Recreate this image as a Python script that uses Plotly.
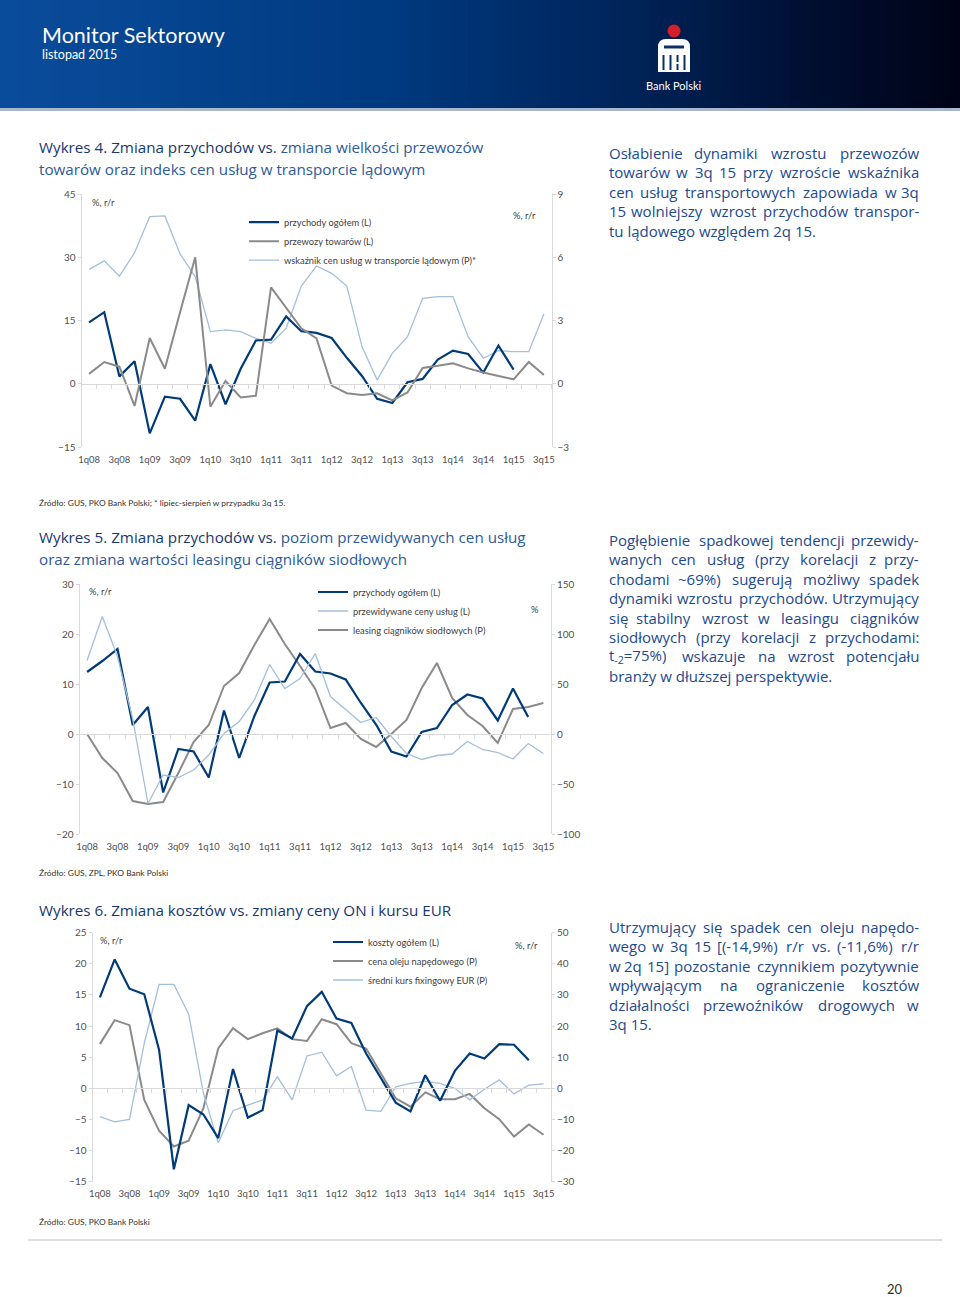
import plotly.graph_objects as go

W, H = 960, 1297


def px(x):
    return x / W


def py(y):
    return 1 - y / H


# ---------------- data ----------------
quarters = ["1q08", "2q08", "3q08", "4q08", "1q09", "2q09", "3q09", "4q09",
            "1q10", "2q10", "3q10", "4q10", "1q11", "2q11", "3q11", "4q11",
            "1q12", "2q12", "3q12", "4q12", "1q13", "2q13", "3q13", "4q13",
            "1q14", "2q14", "3q14", "4q14", "1q15", "2q15", "3q15"]
tick_labels = ["1q08", "3q08", "1q09", "3q09", "1q10", "3q10", "1q11", "3q11",
               "1q12", "3q12", "1q13", "3q13", "1q14", "3q14", "1q15", "3q15"]

# Wykres 4 / Wykres 5 (shared series, drawn one quarter earlier in Wykres 4)
przychody_ogolem = [12.4, 14.6, 17.0, 1.8, 5.4, -11.7, -3.0, -3.5, -8.7, 4.7,
                    -4.8, 3.6, 10.3, 10.5, 16.0, 12.5, 12.1, 10.9, 6.2, 1.9,
                    -3.5, -4.5, 0.4, 1.2, 5.8, 7.9, 7.1, 2.7, 9.1, 3.4]
przewozy_towarow = [2.4, 5.2, 4.1, -5.2, 10.9, 3.6, 17.0, 30.0, -5.4, 0.7,
                    -3.2, -2.8, 22.9, 17.9, 13.2, 10.8, -0.4, -2.2, -2.6, -2.2,
                    -3.9, -2.0, 3.8, 4.3, 4.9, 3.7, 2.7, 1.9, 1.1, 5.2, 2.1]
wskaznik_cen = [5.43, 5.83, 5.10, 6.22, 7.93, 7.96, 6.16, 5.09, 2.48, 2.56,
                2.48, 2.16, 1.93, 2.64, 4.64, 5.59, 5.24, 4.64, 1.77, 0.19,
                1.45, 2.24, 4.06, 4.14, 4.14, 2.24, 1.22, 1.58, 1.53, 1.53, 3.32]

# Wykres 5
przewidywane_ceny = [14.7, 23.5, 15.5, 3.0, -13.9, -8.2, -8.7, -7.2, -4.2, 0.1,
                     2.5, 6.8, 13.9, 9.1, 11.1, 16.1, 7.5, 4.8, 2.3, 3.3,
                     -0.5, -3.9, -5.1, -4.3, -4.0, -1.5, -3.1, -3.7, -5.0, -1.9, -3.9]
leasing_ciagnikow = [0, -24, -39, -67, -70, -68, -39, -8, 9, 48,
                     61, 89, 115, 90, 68, 45, 6, 11, -5, -13,
                     0, 14, 46, 71, 36, 19, 8, -9, 25, 27, 31]

# Wykres 6
koszty_ogolem = [14.6, 20.7, 16.0, 15.1, 6.2, -13.0, -2.7, -4.2, -8.0, 3.1,
                 -4.7, -3.5, 9.3, 8.0, 13.2, 15.5, 11.2, 10.5, 5.6, 1.6,
                 -2.3, -3.7, 2.1, -2.0, 2.8, 5.6, 4.8, 7.1, 7.0, 4.5]
cena_oleju = [14.2, 21.9, 20.3, -3.7, -13.6, -18.7, -16.8, -6.4, 12.8, 19.3,
              15.8, 17.7, 19.3, 15.8, 15.2, 22.2, 20.6, 14.5, 12.8, 4.8,
              -3.2, -5.9, -1.3, -3.5, -3.5, -1.8, -6.4, -9.9, -15.5, -11.6, -14.9]
kurs_eur = [-9.1, -10.8, -10.0, 14.5, 33.4, 33.4, 23.9, -1.6, -17.5, -7.2,
            -5.4, -3.7, 3.7, -3.7, 10.4, 11.6, 4.0, 7.0, -7.0, -7.4,
            0.5, 1.6, 2.2, 1.6, 0.0, -3.7, -0.3, 2.7, -1.8, 1.0, 1.4]

# ---------------- styles ----------------
DARK = "#003a78"
GRAY = "#8a8a8a"
LIGHT = "#a3bfda"
AXC = "#d9d9d9"
TICKC = "#505050"
TXT = "#1d4a8e"
TITLE1 = "#16386f"
TITLE2 = "#2d5a9b"
SMALL = "Lato"
BODY = "Open Sans"

pos = list(range(len(quarters)))
tickpos = pos[::2]

fig = go.Figure()

charts = [
    dict(x="x", yb="y", yo="y2", xz="x4", xd=(81.5, 551.5), top=194.0, bot=447.3,
         lr=(-15, 45), ld=15, rr=(-3, 9), rd=3, leg="legend"),
    dict(x="x2", yb="y3", yo="y4", xz="x5", xd=(79.5, 551.0), top=584.0, bot=834.0,
         lr=(-20, 30), ld=10, rr=(-100, 150), rd=50, leg="legend2"),
    dict(x="x3", yb="y5", yo="y6", xz="x6", xd=(92.5, 551.0), top=932.7, bot=1181.7,
         lr=(-15, 25), ld=5, rr=(-30, 50), rd=10, leg="legend3"),
]

c1, c2, c3 = charts

# Wykres 4 traces
fig.add_trace(go.Scatter(x=pos[:len(przychody_ogolem) - 1], y=przychody_ogolem[1:],
                         xaxis=c1["x"], yaxis=c1["yo"], mode="lines",
                         name="przychody ogółem (L)", legend=c1["leg"],
                         line=dict(color=DARK, width=2.2)))
fig.add_trace(go.Scatter(x=pos, y=przewozy_towarow, xaxis=c1["x"], yaxis=c1["yo"],
                         mode="lines", name="przewozy towarów (L)", legend=c1["leg"],
                         line=dict(color=GRAY, width=2)))
fig.add_trace(go.Scatter(x=pos, y=wskaznik_cen, xaxis=c1["x"], yaxis=c1["yb"],
                         mode="lines", name="wskaźnik cen usług w transporcie lądowym (P)*",
                         legend=c1["leg"], line=dict(color=LIGHT, width=1.3)))

# Wykres 5 traces
fig.add_trace(go.Scatter(x=pos[:len(przychody_ogolem)], y=przychody_ogolem,
                         xaxis=c2["x"], yaxis=c2["yo"], mode="lines",
                         name="przychody ogółem (L)", legend=c2["leg"],
                         line=dict(color=DARK, width=2.2)))
fig.add_trace(go.Scatter(x=pos, y=przewidywane_ceny, xaxis=c2["x"], yaxis=c2["yo"],
                         mode="lines", name="przewidywane ceny usług (L)", legend=c2["leg"],
                         line=dict(color=LIGHT, width=1.3)))
fig.add_trace(go.Scatter(x=pos, y=leasing_ciagnikow, xaxis=c2["x"], yaxis=c2["yb"],
                         mode="lines", name="leasing ciągników siodłowych (P)",
                         legend=c2["leg"], line=dict(color=GRAY, width=2)))

# Wykres 6 traces
fig.add_trace(go.Scatter(x=pos[:len(koszty_ogolem)], y=koszty_ogolem,
                         xaxis=c3["x"], yaxis=c3["yo"], mode="lines",
                         name="koszty ogółem (L)", legend=c3["leg"],
                         line=dict(color=DARK, width=2.2)))
fig.add_trace(go.Scatter(x=pos, y=cena_oleju, xaxis=c3["x"], yaxis=c3["yb"],
                         mode="lines", name="cena oleju napędowego (P)", legend=c3["leg"],
                         line=dict(color=GRAY, width=2)))
fig.add_trace(go.Scatter(x=pos, y=kurs_eur, xaxis=c3["x"], yaxis=c3["yb"],
                         mode="lines", name="średni kurs fixingowy EUR (P)",
                         legend=c3["leg"], line=dict(color=LIGHT, width=1.3)))

layout = dict(
    width=W, height=H, margin=dict(l=0, r=0, t=0, b=0, autoexpand=False),
    paper_bgcolor="white", plot_bgcolor="rgba(0,0,0,0)",
    hovermode=False,
)

legend_pos = [(244.0, 207.7), (313.0, 577.5), (328.0, 927.5)]

for i, c in enumerate(charts):
    xn = c["x"].replace("x", "xaxis")
    ybn = c["yb"].replace("y", "yaxis")
    yon = c["yo"].replace("y", "yaxis")
    xzn = c["xz"].replace("x", "xaxis")
    dom_x = [px(c["xd"][0]), px(c["xd"][1])]
    dom_y = [py(c["bot"]), py(c["top"])]
    zero_px = c["top"] + (c["bot"] - c["top"]) * (c["lr"][1] / (c["lr"][1] - c["lr"][0]))
    layout[xn] = dict(domain=dom_x, anchor=c["yb"], range=[-0.5, 30.5],
                      tickmode="array", tickvals=tickpos, ticktext=tick_labels,
                      showline=False, showgrid=False, zeroline=False, ticks="",
                      ticklabelstandoff=5, automargin=False,
                      tickfont=dict(family=SMALL, size=9.5, color=TICKC))
    layout[xzn] = dict(domain=dom_x, overlaying=c["x"], anchor="free",
                       position=py(zero_px), range=[-0.5, 30.5],
                       tickmode="linear", tick0=-0.5, dtick=1,
                       ticks="outside", ticklen=4, tickcolor=AXC, tickwidth=1,
                       showticklabels=False, showline=True, linecolor=AXC,
                       linewidth=1, showgrid=False, zeroline=False, automargin=False)
    layout[ybn] = dict(domain=dom_y, anchor=c["x"], side="right",
                       range=list(c["rr"]), dtick=c["rd"], tick0=0,
                       showline=True, linecolor=AXC, linewidth=1,
                       ticks="outside", ticklen=3, tickcolor=AXC,
                       showgrid=False, zeroline=False, automargin=False,
                       tickfont=dict(family=SMALL, size=10, color=TICKC))
    layout[yon] = dict(domain=dom_y, anchor=c["x"], overlaying=c["yb"], side="left",
                       range=list(c["lr"]), dtick=c["ld"], tick0=0,
                       showline=True, linecolor=AXC, linewidth=1,
                       ticks="outside", ticklen=3, tickcolor=AXC,
                       showgrid=False, zeroline=False, automargin=False,
                       tickfont=dict(family=SMALL, size=10, color=TICKC))
    lx, ly = legend_pos[i]
    layout[c["leg"]] = dict(x=px(lx), y=py(ly), xanchor="left", yanchor="top",
                            bgcolor="rgba(0,0,0,0)", borderwidth=0,
                            itemwidth=30, tracegroupgap=0,
                            font=dict(family=SMALL, size=9.3, color="#404040"))
    fig.add_trace(go.Scatter(x=[0], y=[None], xaxis=c["xz"], yaxis=c["yb"],
                             mode="lines", showlegend=False, hoverinfo="skip"))

fig.update_layout(**layout)

# ---------------- header ----------------
shapes = []
stops = [(0.0, (10, 76, 156)), (0.40, (0, 58, 128)), (0.65, (0, 36, 90)),
         (0.85, (0, 14, 48)), (1.0, (0, 3, 22))]


def grad(t):
    for (t0, c0), (t1, c1_) in zip(stops[:-1], stops[1:]):
        if t0 <= t <= t1:
            f = (t - t0) / (t1 - t0)
            return "rgb(%d,%d,%d)" % tuple(round(a + (b - a) * f) for a, b in zip(c0, c1_))
    return "rgb(0,3,22)"


NS = 96
for k in range(NS):
    x0 = k * W / NS
    x1 = (k + 1) * W / NS + 0.6
    shapes.append(dict(type="rect", xref="paper", yref="paper",
                       x0=px(x0), x1=min(1, px(x1)), y0=py(108), y1=1,
                       fillcolor=grad((k + 0.5) / NS), line=dict(width=0), layer="below"))
shapes.append(dict(type="rect", xref="paper", yref="paper", x0=0, x1=1,
                   y0=py(111), y1=py(108), fillcolor="#a9b6cb", line=dict(width=0)))


def P(x, y):
    return "%.5f,%.5f" % (px(x), py(y))


body = ("M " + P(658, 72) + " L " + P(658, 47) + " Q " + P(658, 39) + " " + P(666, 39)
        + " L " + P(682, 39) + " Q " + P(690, 39) + " " + P(690, 47)
        + " L " + P(690, 72) + " Z")
shapes.append(dict(type="path", xref="paper", yref="paper", path=body,
                   fillcolor="white", line=dict(width=0)))
shapes.append(dict(type="circle", xref="paper", yref="paper",
                   x0=px(667.5), x1=px(680.5), y0=py(37.5), y1=py(24.5),
                   fillcolor="#d31f2b", line=dict(width=0)))
logo_blue = "#0b2f66"
for (xa, ya, xb, yb) in [(664, 45.5, 684, 48.5), (662.5, 55, 664.5, 70), (669.5, 55, 671.5, 70),
                         (676.5, 55, 678.5, 62), (683.5, 55, 685.5, 70), (676.5, 64, 678.5, 70)]:
    shapes.append(dict(type="rect", xref="paper", yref="paper",
                       x0=px(xa), x1=px(xb), y0=py(yb), y1=py(ya),
                       fillcolor=logo_blue, line=dict(width=0)))

shapes.append(dict(type="line", xref="paper", yref="paper", x0=px(28), x1=px(942),
                   y0=py(1240), y1=py(1240), line=dict(color="#d3d3d3", width=1.5)))

fig.update_layout(shapes=shapes)

# ---------------- texts ----------------
ann = []


def text(x, y, s, size, color, family=SMALL, xanchor="left", yanchor="middle"):
    ann.append(dict(x=px(x), y=py(y), xref="paper", yref="paper", text=s,
                    showarrow=False, xanchor=xanchor, yanchor=yanchor,
                    font=dict(family=family, size=size, color=color)))


text(40, 35, "Monitor Sektorowy", 21.5, "white")
text(40, 55, "listopad 2015", 12.5, "white")
text(673.5, 85, "Bank Polski", 11, "white", xanchor="center")

TS = 15.2
text(37, 147, "Wykres 4. Zmiana przychodów vs. <span style='color:%s'>zmiana wielkości przewozów</span>" % TITLE2,
     TS, TITLE1, family=BODY)
text(37, 169, "towarów oraz indeks cen usług w transporcie lądowym", TS, TITLE2, family=BODY)
text(37, 537, "Wykres 5. Zmiana przychodów vs. <span style='color:%s'>poziom przewidywanych cen usług</span>" % TITLE2,
     TS, TITLE1, family=BODY)
text(37, 559, "oraz zmiana wartości leasingu ciągników siodłowych", TS, TITLE2, family=BODY)
text(37, 910, "Wykres 6. Zmiana kosztów vs. zmiany ceny ON i kursu EUR", TS, TITLE1, family=BODY)

text(90, 203, "%, r/r", 9.3, "#404040")
text(538, 216, "%, r/r", 9.3, "#404040", xanchor="right")
text(87, 591.5, "%, r/r", 9.3, "#404040")
text(541, 610, "%", 9.3, "#404040", xanchor="right")
text(98, 940, "%, r/r", 9.3, "#404040")
text(540, 945, "%, r/r", 9.3, "#404040", xanchor="right")

text(37, 503, "Źródło: GUS, PKO Bank Polski; * lipiec-sierpień w przypadku 3q 15.", 8.4, "#303030")
text(37, 873, "Źródło: GUS, ZPL, PKO Bank Polski", 8.4, "#303030")
text(37, 1222, "Źródło: GUS, PKO Bank Polski", 8.4, "#303030")

text(905, 1289, "20", 13, "#303030", xanchor="right")

WID = {" ": 0.26, "i": 0.26, "l": 0.26, "j": 0.26, "ł": 0.28, "t": 0.35, "f": 0.33,
       "r": 0.40, "s": 0.47, "ś": 0.47, "c": 0.48, "ć": 0.48, "z": 0.47, "ż": 0.47,
       "ź": 0.47, "e": 0.56, "ę": 0.56, "a": 0.56, "ą": 0.56, "o": 0.60, "ó": 0.60,
       "n": 0.61, "ń": 0.61, "u": 0.61, "k": 0.53, "y": 0.51, "v": 0.51, "x": 0.51,
       "w": 0.80, "m": 0.93, ".": 0.27, ",": 0.27, ":": 0.27, "(": 0.30, ")": 0.30,
       "[": 0.32, "]": 0.32, "-": 0.33, "%": 0.84, "~": 0.57, "=": 0.57}


def wlen(word, size):
    plain = word.replace("<sub>", "").replace("</sub>", "")
    tot = 0.0
    for ch in plain:
        if ch in WID:
            tot += WID[ch]
        elif ch.isdigit():
            tot += 0.57
        elif ch.isupper():
            tot += 0.68
        else:
            tot += 0.60
    return tot * size * 1.02


def paragraph(lines, y0, dy, size=15, left=607, right=921):
    for li, line in enumerate(lines):
        y = y0 + li * dy
        justify = li < len(lines) - 1
        words = line.split(" ")
        if not justify or len(words) < 2:
            text(left, y, line, size, TXT, family=BODY)
            continue
        ws = [wlen(w, size) for w in words]
        gap = (right - left - sum(ws)) / (len(words) - 1)
        xcur = left
        for k, (w, wl) in enumerate(zip(words, ws)):
            if k == 0:
                text(left, y, w, size, TXT, family=BODY)
            elif k == len(words) - 1:
                text(right, y, w, size, TXT, family=BODY, xanchor="right")
            else:
                text(xcur + wl / 2, y, w, size, TXT, family=BODY, xanchor="center")
            xcur += wl + gap


paragraph(["Osłabienie dynamiki wzrostu przewozów",
           "towarów w 3q 15 przy wzroście wskaźnika",
           "cen usług transportowych zapowiada w 3q",
           "15 wolniejszy wzrost przychodów transpor-",
           "tu lądowego względem 2q 15."], 153, 19.5)

paragraph(["Pogłębienie spadkowej tendencji przewidy-",
           "wanych cen usług (przy korelacji z przy-",
           "chodami ~69%) sugerują możliwy spadek",
           "dynamiki wzrostu przychodów. Utrzymujący",
           "się stabilny wzrost w leasingu ciągników",
           "siodłowych (przy korelacji z przychodami:",
           "t<sub>-2</sub>=75%) wskazuje na wzrost potencjału",
           "branży w dłuższej perspektywie."], 540, 19.4)

paragraph(["Utrzymujący się spadek cen oleju napędo-",
           "wego w 3q 15 [(-14,9%) r/r vs. (-11,6%) r/r",
           "w 2q 15] pozostanie czynnikiem pozytywnie",
           "wpływającym na ograniczenie kosztów",
           "działalności przewoźników drogowych w",
           "3q 15."], 927, 19.4)

fig.update_layout(annotations=ann)

fig.write_html(
    "out.html",
    config={"displayModeBar": False, "staticPlot": True},
    post_script=(
        "var s=document.createElement('style');"
        "s.innerHTML='html,body{margin:0!important;padding:0!important;overflow:hidden;background:#fff;}';"
        "document.head.appendChild(s);"
    ),
)
